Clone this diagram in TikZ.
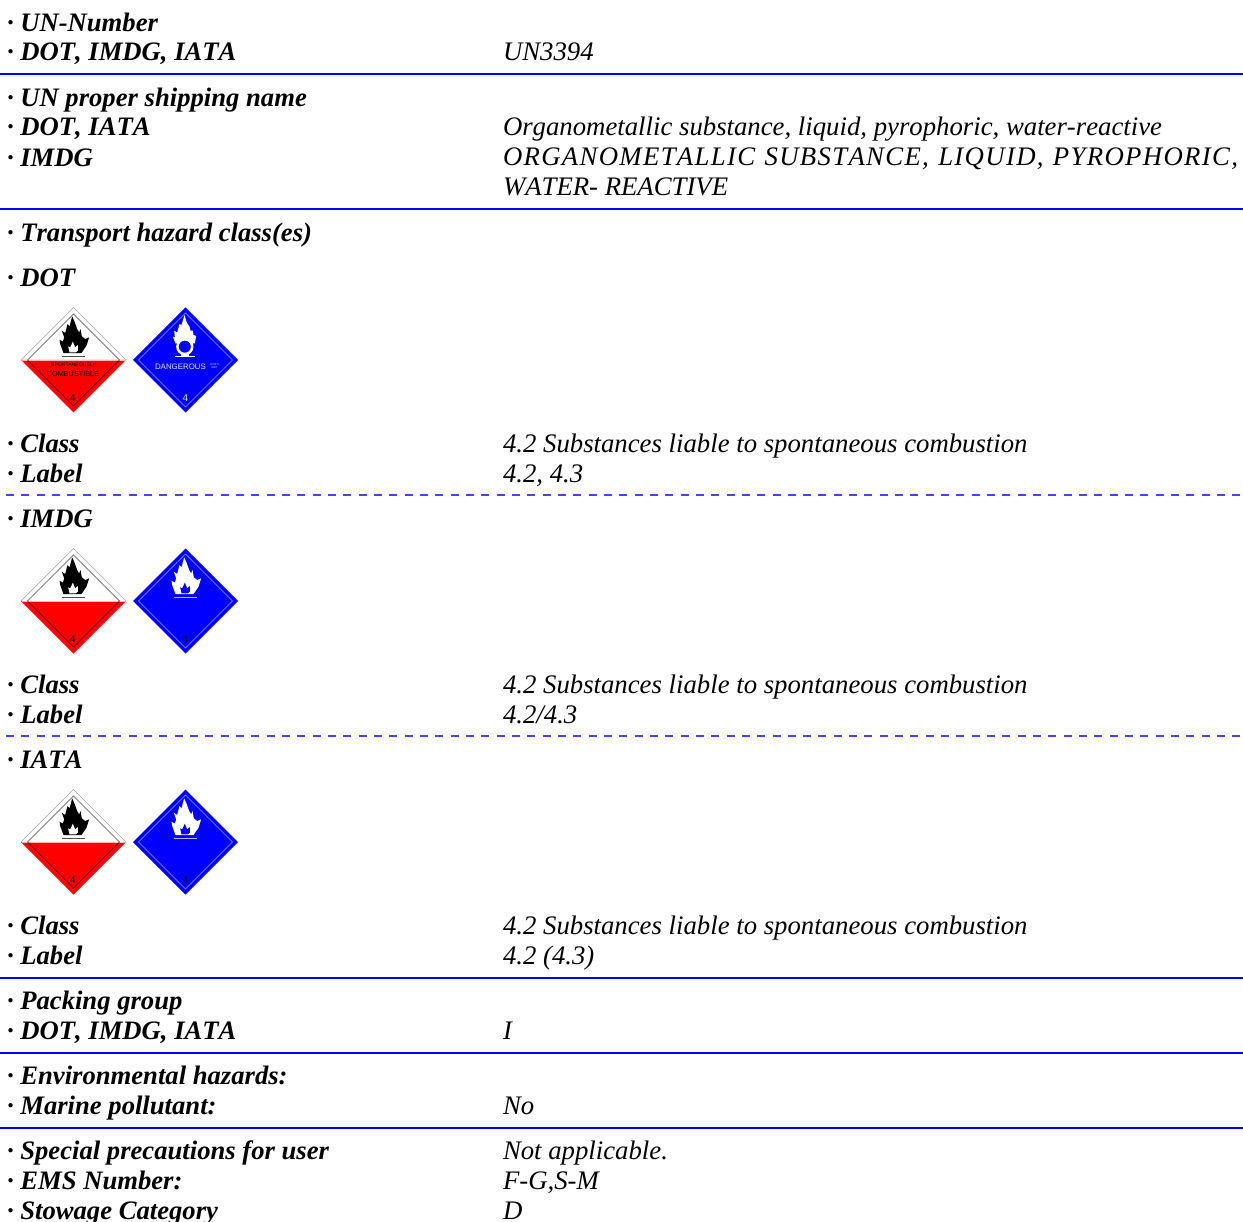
\documentclass[tikz,border=0pt]{standalone}
\usepackage{fontspec}
\setmainfont[Kerning=Off]{Liberation Serif}
\newfontfamily\arl{Liberation Sans}
\definecolor{ruleblue}{RGB}{0,0,255}
\definecolor{darkdash}{RGB}{70,70,240}
\tikzset{
 x=1pt,y=-1pt,
 txt/.style={anchor=base west,inner sep=0pt,outer sep=0pt,yshift=-0.7pt,font=\fontsize{26.75}{30}\selectfont\itshape},
 lab/.style={txt,font=\fontsize{26.65}{30}\selectfont\bfseries\itshape},
 solidrule/.style={draw=ruleblue,line width=2pt},
 dashrule/.style={draw=darkdash,line width=1.1pt,dash pattern=on 8pt off 7.33pt,dash phase=9.33pt},
 plab/.style={inner sep=0pt,outer sep=0pt,font=\arl},
}
\newcommand{\flamepath}{(-30,-21) -- (-40,-48) -- (-42,-61) -- (-32,-55) -- (-28,-68) -- (-35,-88) -- (-25,-81) -- (-18,-108) -- (-12,-101) -- (-4,-131) -- (4,-113) -- (11,-93) -- (17,-83) -- (21,-93) -- (25,-71) -- (35,-63) -- (47,-68) -- (39,-43) -- (24,-21) -- cycle}
\newcommand{\innerflame}{(-12,-23) -- (-16,-41) -- (-10,-38) -- (-2,-55) -- (5,-38) -- (13,-45) -- (13,-28) -- (7,-23) -- cycle}
\newcommand{\flamedraw}[5]{%
 \begin{scope}[shift={(#2,#3)},x=0.333pt,y=-0.333pt]
  \fill[#4] \flamepath;
  \fill[#5] \innerflame;
  \fill[#4,opacity=.7] (-36,-13) rectangle (36,-9);
 \end{scope}}
\newcommand{\redsign}[3]{%
 \begin{scope}[shift={(#2,#3)}]
  \fill[red] (-52.5,0) -- (0,52.5) -- (52.5,0) -- cycle;
  \draw[gray!70,line width=.7pt] (-52.5,0) -- (0,-52.5) -- (52.5,0);
  \draw[gray,line width=.8pt] (-46,0) -- (0,-46) -- (46,0);
  \draw[red!30,line width=.6pt] (-52,0) -- (52,0);
  \draw[black!75!red,line width=.5pt] (-46,0) -- (0,46) -- (46,0);
 \end{scope}
 \flamedraw{#1}{#2}{#3}{black}{white}}
\newcommand{\bluesign}[3]{%
 \begin{scope}[shift={(#2,#3)}]
  \fill[ruleblue] (-52.5,0) -- (0,-52.5) -- (52.5,0) -- (0,52.5) -- cycle;
  \draw[white!60!blue,line width=.5pt] (-47,0) -- (0,-47) -- (47,0) -- (0,47) -- cycle;
 \end{scope}}
\begin{document}
\begin{tikzpicture}
\useasboundingbox (0,0) rectangle (1243,1222);
\coordinate (r1l) at (0,74); \coordinate (r1r) at (1243,74);
\coordinate (r2l) at (0,209); \coordinate (r2r) at (1243,209);
\coordinate (d1l) at (0,495); \coordinate (d1r) at (1243,495);
\coordinate (d2l) at (0,736); \coordinate (d2r) at (1243,736);
\coordinate (r3l) at (0,978); \coordinate (r3r) at (1243,978);
\coordinate (r4l) at (0,1053); \coordinate (r4r) at (1243,1053);
\coordinate (r5l) at (0,1128); \coordinate (r5r) at (1243,1128);
\draw[solidrule] (r1l) -- (r1r);
\draw[solidrule] (r2l) -- (r2r);
\draw[dashrule] (d1l) -- (d1r);
\draw[dashrule] (d2l) -- (d2r);
\draw[solidrule] (r3l) -- (r3r);
\draw[solidrule] (r4l) -- (r4r);
\draw[solidrule] (r5l) -- (r5r);
\node[lab] (l1) at (7,31) {· UN-Number};
\node[lab] (l2) at (7,60) {· DOT, IMDG, IATA};
\node[lab] (l3) at (7,106) {· UN proper shipping name};
\node[lab] (l4) at (7,135) {· DOT, IATA};
\node[lab] (l5) at (7,166) {· IMDG};
\node[lab] (l6) at (7,241) {· Transport hazard class(es)};
\node[lab] (l7) at (7,286) {· DOT};
\node[lab] (l8) at (7,452) {· Class};
\node[lab] (l9) at (7,482) {· Label};
\node[lab] (l10) at (7,527) {· IMDG};
\node[lab] (l11) at (7,693) {· Class};
\node[lab] (l12) at (7,723) {· Label};
\node[lab] (l13) at (7,768) {· IATA};
\node[lab] (l14) at (7,934) {· Class};
\node[lab] (l15) at (7,964) {· Label};
\node[lab] (l16) at (7,1009) {· Packing group};
\node[lab] (l17) at (7,1039) {· DOT, IMDG, IATA};
\node[lab] (l18) at (7,1084) {· Environmental hazards:};
\node[lab] (l19) at (7,1114) {· Marine pollutant:};
\node[lab] (l20) at (7,1159) {· Special precautions for user};
\node[lab] (l21) at (7,1189) {· EMS Number:};
\node[lab] (l22) at (7,1219) {· Stowage Category};
\node[txt] (v1) at (503,60) {UN3394};
\node[txt] (v2) at (503,135) {Organometallic substance, liquid, pyrophoric, water-reactive};
\node[txt] (v3) at (503,165) {\addfontfeature{LetterSpace=5}\makebox[735pt][s]{ORGANOMETALLIC SUBSTANCE, LIQUID, PYROPHORIC,}};
\node[txt] (v4) at (503,195) {WATER- REACTIVE};
\node[txt] (v5) at (503,452) {4.2 Substances liable to spontaneous combustion};
\node[txt] (v6) at (503,482) {4.2, 4.3};
\node[txt] (v7) at (503,693) {4.2 Substances liable to spontaneous combustion};
\node[txt] (v8) at (503,723) {4.2/4.3};
\node[txt] (v9) at (503,934) {4.2 Substances liable to spontaneous combustion};
\node[txt] (v10) at (503,964) {4.2 (4.3)};
\node[txt] (v11) at (503,1039) {I};
\node[txt] (v12) at (503,1114) {No};
\node[txt] (v13) at (503,1159) {Not applicable.};
\node[txt] (v14) at (503,1189) {F-G,S-M};
\node[txt] (v15) at (503,1219) {D};
% DOT signs
\redsign{a}{73.5}{360}
\bluesign{b}{185.5}{360}
\begin{scope}[shift={(185.5,360)},x=0.333pt,y=-0.333pt]
 \fill[white] (-30,-50) -- (-38,-70) -- (-32,-68) -- (-34,-88) -- (-25,-82) -- (-18,-108) -- (-12,-105) -- (-3,-135) -- (4,-112) -- (12,-100) -- (15,-88) -- (22,-88) -- (24,-75) -- (32,-72) -- (28,-50) -- cycle;
 \fill[white] (-2,-40) circle (26);
 \fill[ruleblue] (-2,-40) circle (18);
 \fill[white] (-33,-13) rectangle (29,-9);
 \fill[white] (-14,-18) rectangle (10,-10);
\end{scope}
\node[plab,font=\arl\fontsize{5.1}{6}\selectfont] (t1) at (73.5,364.7) {SPONTANEOUSLY};
\node[plab,font=\arl\fontsize{7.3}{9}\selectfont] (t2) at (73,374) {COMBUSTIBLE};
\node[plab,font=\arl\fontsize{10}{10}\selectfont] (t3) at (73,398) {4};
\node[plab,white!90!blue,font=\arl\fontsize{7.9}{9}\selectfont] (t4) at (180.5,366.5) {DANGEROUS};
\node[plab,white!75!blue,align=center,font=\arl\fontsize{2.8}{3.6}\selectfont] (t5) at (214.5,366) {WHEN\\WET};
\node[plab,white!90!blue,font=\arl\fontsize{10}{10}\selectfont] (t6) at (185.5,398) {4};
% IMDG signs
\redsign{c}{73.5}{601}
\bluesign{d}{185.5}{601}
\flamedraw{d}{185.5}{601}{white}{ruleblue}
\node[plab,font=\arl\fontsize{10}{10}\selectfont] (t7) at (73,639) {4};
\node[plab,black!70!blue,font=\arl\fontsize{10}{10}\selectfont] (t8) at (185.5,639) {4};
% IATA signs
\redsign{e}{73.5}{842}
\bluesign{f}{185.5}{842}
\flamedraw{f}{185.5}{842}{white}{ruleblue}
\node[plab,font=\arl\fontsize{10}{10}\selectfont] (t9) at (73,880) {4};
\node[plab,black!70!blue,font=\arl\fontsize{10}{10}\selectfont] (t10) at (185.5,880) {4};
\end{tikzpicture}
\end{document}
